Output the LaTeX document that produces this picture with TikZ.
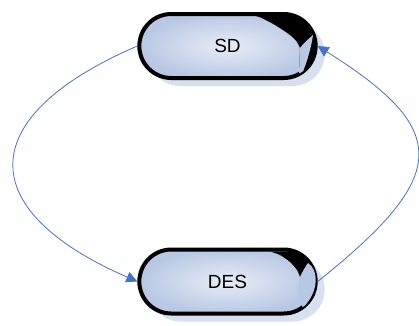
\documentclass[tikz,border=0pt]{standalone}
\usepackage{fontspec}
\setmainfont{Liberation Sans}
\usetikzlibrary{shapes.misc, arrows.meta, shadows}
\definecolor{edgeblue}{RGB}{68,114,196}
\definecolor{fillblue}{RGB}{184,200,228}
\definecolor{fillpale}{RGB}{232,237,246}
\definecolor{shadowblue}{RGB}{214,224,240}

\begin{document}
\begin{tikzpicture}[x=1pt, y=1pt,
    phase/.style={rounded rectangle, draw, line width=4pt, minimum width=183pt,
                  minimum height=64pt, inner color=fillpale, outer color=fillblue,
                  font=\fontsize{19}{22}\selectfont,
                  drop shadow={shadow xshift=9pt, shadow yshift=-8pt, fill=shadowblue, opacity=1}},
    gloss/.style={fill=fillblue},
    link/.style={edgeblue, line width=0.8pt, -{Triangle[length=11pt, width=11pt]}}]
    \useasboundingbox (0,0) rectangle (419,325);

    \node[phase] (sd) at (227.5, 279) {SD};
    \node[phase] (des) at (227.5, 43.5) {DES};

    % dark crescent at the right end of each node
    \begin{scope}[shift={(sd.center)}]
        \clip[rounded corners=30pt] (-89.5,-30) rectangle (89.5,30);
        \fill plot[smooth] coordinates {(24,31) (33,28.5) (47.5,21) (62.5,11) (69.5,4) (72.5,-2)}
            -- (71.5,-28) -- (72,-40) -- (110,-40) -- (110,40) -- (24,40) -- cycle;
        \fill[gloss] (71.5,-28) -- (72.5,-2) .. controls (76,3) and (81,7) .. (85.5,11)
            .. controls (84,0) and (80,-15) .. (74.5,-28) -- cycle;
    \end{scope}
    \begin{scope}[shift={(des.center)}]
        \clip[rounded corners=30pt] (-89.5,-30) rectangle (89.5,30);
        \fill plot[smooth] coordinates {(36,31) (42.5,30) (52.5,26.5) (62.5,19.5) (69.5,11.5) (72.5,4.5)}
            -- (75.5,-26) -- (76,-40) -- (110,-40) -- (110,40) -- (36,40) -- cycle;
        \fill[gloss] (75.5,-26) .. controls (70,-18) and (69,-4) .. (72.5,4.5)
            .. controls (75,10) and (78,15) .. (80.5,18.5) .. controls (91,12) and (92,-10) .. (75.5,-26);
    \end{scope}

    \draw[link] (sd.west) .. controls (-27,208) and (-27,115) .. (des.west);
    \draw[link] (des.east) .. controls (451,150) and (451,195) .. (sd.east);
\end{tikzpicture}
\end{document}
